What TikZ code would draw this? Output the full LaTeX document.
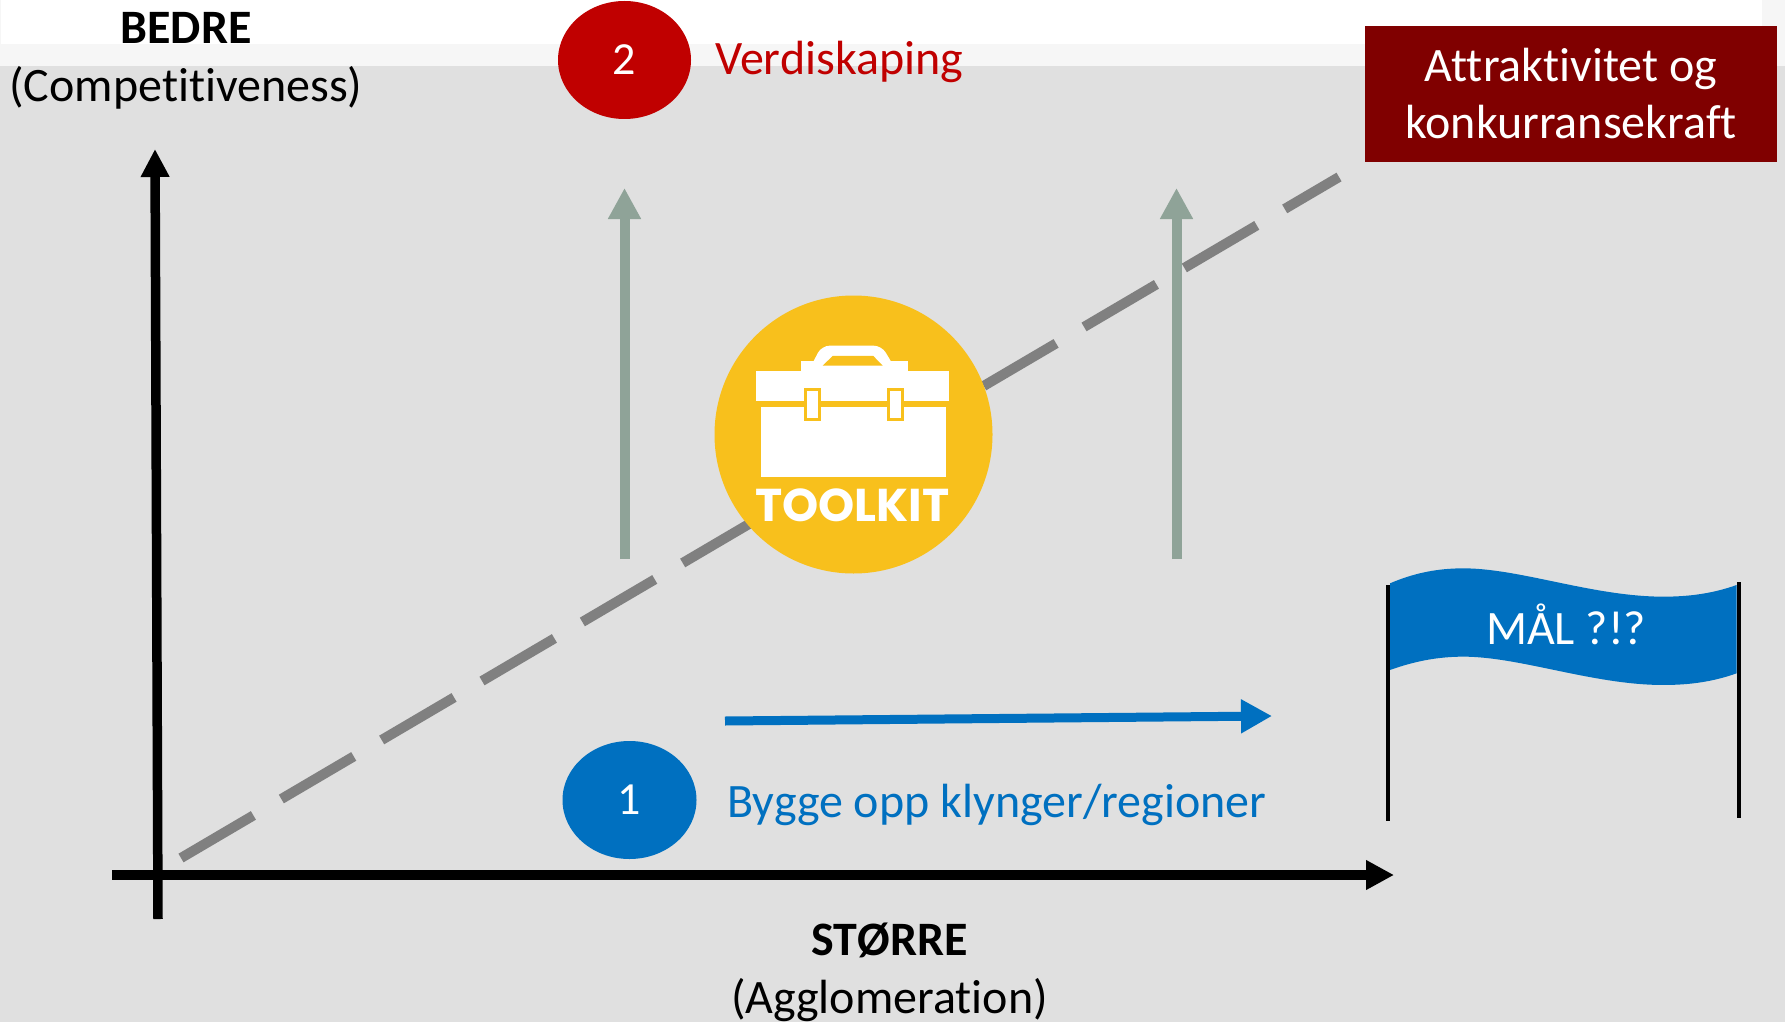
\documentclass[tikz,border=0pt]{standalone}
\usepackage{fontspec}
\setmainfont[Ligatures=NoCommon]{Carlito}
\newfontfamily\kitfont{Poppins}
\usetikzlibrary{arrows.meta}
\usetikzlibrary{shapes.geometric}
\definecolor{bggrey}{HTML}{E0E0E0}
\definecolor{bandgrey}{HTML}{F6F6F6}
\definecolor{boxred}{HTML}{800000}
\definecolor{numred}{HTML}{C00000}
\definecolor{numblue}{HTML}{0070C0}
\definecolor{dashgrey}{HTML}{808080}
\definecolor{risegreen}{HTML}{8FA398}
\definecolor{kityellow}{HTML}{F8C01C}
\tikzset{
  lbl/.style={font=\fontsize{48}{56}\selectfont,inner sep=0pt,anchor=base},
  axisline/.style={line width=9.5pt,black},
  rise/.style={line width=10pt,risegreen,-{Triangle[length=31pt,width=31pt]}},
  numdot/.style={ellipse,inner sep=0pt,text=white,font=\fontsize{46}{50}\selectfont},
  pole/.style={line width=4.7pt,black},
  kit/.style={fill=white,draw=none},
}
\begin{document}
\begin{tikzpicture}[x=1pt,y=-1pt]
\useasboundingbox (0,0) rectangle (1785,1022);
% background
\fill[bggrey] (0,0) rectangle (1785,1022);
\fill[bandgrey] (0,0) rectangle (1785,66);
\fill[white] (1,0) rectangle (1762,44);
% axis coordinates
\coordinate (ytop) at (155,149);
\coordinate (ybot) at (158,919);
\coordinate (xleft) at (112,875);
\coordinate (xright) at (1394,875);
\draw[axisline,-{Triangle[length=28pt,width=27pt]}] (ybot) -- (ytop);
\draw[axisline,-{Triangle[length=28pt,width=28pt]}] (xleft) -- (xright);
% dashed trend
\coordinate (ds) at (181,858);
\coordinate (de) at (1339,177);
\draw[line width=10pt,dashgrey,dash pattern=on 84pt off 32.4pt] (ds) -- (de);
% rising arrows
\coordinate (r1s) at (624.5,559);
\coordinate (r1e) at (624.5,188);
\coordinate (r2s) at (1176.5,559);
\coordinate (r2e) at (1176.5,188);
\draw[rise] (r1s) -- (r1e);
\draw[rise] (r2s) -- (r2e);
% blue arrow
\coordinate (bs) at (725,721);
\coordinate (be) at (1272,716);
\draw[line width=9pt,numblue,-{Triangle[length=31pt,width=32pt]}] (bs) -- (be);
% toolkit
\node[circle,fill=kityellow,minimum size=278pt,inner sep=0pt] (kitdisc) at (853.5,434.5) {};
\begin{scope}[shift={(700,280)},x=0.3333pt,y=-0.3333pt]
  \fill[kit] (167,274) rectangle (748,364);
  \fill[kit] (303,244) rectangle (623,274);
  \fill[kit,rounded corners=8pt] (328,268) -- (365,197) -- (545,197) -- (587,268) -- cycle;
  \fill[kityellow] (368,257) -- (398,228) -- (520,228) -- (548,257) -- cycle;
  \fill[kit] (182,382) rectangle (737,590);
  \fill[kit,draw=kityellow,line width=2.8pt] (316,329) rectangle (358,418);
  \fill[kit,draw=kityellow,line width=2.8pt] (566,329) rectangle (608,418);
  \node[inner sep=0pt,anchor=base,text=white,font=\kitfont\bfseries\fontsize{46}{50}\selectfont] (kitlabel) at (457,724) {TOOLKIT};
\end{scope}
% flag
\coordinate (p1t) at (1388,585);
\coordinate (p1b) at (1388,821);
\coordinate (p2t) at (1739,582);
\coordinate (p2b) at (1739,818);
\begin{scope}[shift={(1360,550)},x=0.3333pt,y=-0.3333pt]
  \fill[numblue] (90,100) .. controls (160,70) and (230,55) .. (310,55)
     .. controls (480,55) and (700,140) .. (910,140)
     .. controls (990,140) and (1060,130) .. (1130,105)
     -- (1130,370) .. controls (1060,395) and (990,405) .. (910,405)
     .. controls (700,405) and (480,320) .. (310,320)
     .. controls (230,320) and (160,335) .. (90,360) -- cycle;
\end{scope}
\draw[pole] (p1t) -- (p1b);
\draw[pole] (p2t) -- (p2b);
\node[lbl,text=white] (mal) at (1566,644) {MÅL ?!?};
% red box
\node[fill=boxred,minimum width=412pt,minimum height=136pt,inner sep=0pt] (attrbox) at (1571,94) {};
\node[lbl,text=white] (attr1) at (1571,82) {Attraktivitet og};
\node[lbl,text=white] (attr2) at (1571,139) {konkurransekraft};
% number dots
\node[numdot,fill=numred,minimum width=133pt,minimum height=118pt] (n2) at (624.5,60) {2};
\node[numdot,fill=numblue,minimum width=134pt,minimum height=118pt] (n1) at (629.5,800) {1};
\node[lbl,anchor=base west,text=numred] (verdi) at (715,75) {Verdiskaping};
\node[lbl,anchor=base west,text=numblue] (bygge) at (727,817) {Bygge opp klynger/regioner};
% axis labels
\node[lbl,font=\bfseries\fontsize{48}{56}\selectfont] (bedre) at (186,44) {BEDRE};
\node[lbl] (comp) at (186,102) {(Competitiveness)};
\node[lbl,font=\bfseries\fontsize{48}{56}\selectfont] (storre) at (889.5,955) {STØRRE};
\node[lbl] (aggl) at (889.5,1013) {(Agglomeration)};
\end{tikzpicture}
\end{document}
